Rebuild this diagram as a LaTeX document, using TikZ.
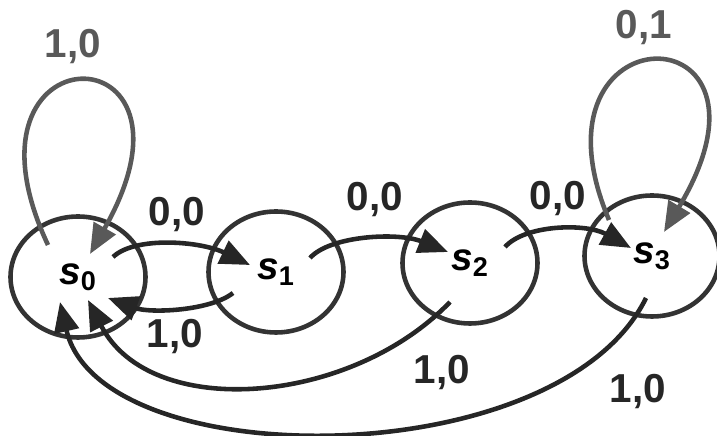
\documentclass[tikz,border=0pt]{standalone}
\usepackage{fontspec}
\setmainfont{Liberation Sans}
\usetikzlibrary{shapes.geometric,arrows.meta}

\begin{document}
\begin{tikzpicture}[
		state/.style={ellipse, draw=black!80, line width=2.6pt, minimum width=2.7cm, minimum height=2.42cm, inner sep=0pt, font=\fontsize{22}{24}\selectfont\bfseries},
		edge/.style={draw=black!85, line width=2.6pt, -{Triangle[length=17pt,width=14pt]}},
		selfloop/.style={edge, draw=black!65},
		lbl/.style={font=\fontsize{23}{25}\selectfont\bfseries, text=black!85}
	]
		
		\useasboundingbox (0,0) rectangle (14.34,8.72);
		
		\node[state] (s0) at (1.56,3.18) {\textit{s}\textsubscript{0}};
		\node[state] (s1) at (5.52,3.28) {\textit{s}\textsubscript{1}};
		\node[state] (s2) at (9.40,3.46) {\textit{s}\textsubscript{2}};
		\node[state] (s3) at (13.04,3.60) {\textit{s}\textsubscript{3}};
		
		\draw[selfloop] ([shift={(-0.60,0.64)}]s0.center) .. controls +(-2.06,4.38) and +(2.6,4.56) .. ([shift={(0.24,0.46)}]s0.center);
		\draw[selfloop] ([shift={(-0.86,0.72)}]s3.center) .. controls +(-1.8,4.26) and +(2.7,4.5) .. ([shift={(0.24,0.48)}]s3.center);
		
		\draw[edge] ([shift={(0.70,0.40)}]s0.center) .. controls +(0.44,0.42) and +(-1.0,0.48) .. ([shift={(-0.52,0.14)}]s1.center);
		\draw[edge] ([shift={(-0.86,-0.42)}]s1.center) .. controls +(-0.46,-0.36) and +(0.84,-0.31) .. ([shift={(0.60,-0.42)}]s0.center);
		\draw[edge] ([shift={(0.68,0.28)}]s1.center) .. controls +(0.4,0.45) and +(-1.0,0.4) .. ([shift={(-0.44,0.22)}]s2.center);
		\draw[edge] ([shift={(0.70,0.32)}]s2.center) .. controls +(0.4,0.45) and +(-0.9,0.5) .. ([shift={(-0.42,0.16)}]s3.center);
		
		\draw[edge] ([shift={(-0.40,-0.78)}]s2.center) .. controls +(-2.0,-2.08) and +(1.24,-2.42) .. ([shift={(0.20,-0.46)}]s0.center);
		\draw[edge] ([shift={(-0.12,-0.84)}]s3.center) .. controls +(-1.74,-3.56) and +(0.8,-3.48) .. ([shift={(-0.36,-0.50)}]s0.center);
		
		\node[lbl, text=black!65] (l00) at (1.46,7.78) {1,0};
		\node[lbl] (l01) at (3.54,4.42) {0,0};
		\node[lbl] (l10) at (3.50,1.98) {1,0};
		\node[lbl] (l12) at (7.50,4.72) {0,0};
		\node[lbl] (l23) at (11.16,4.74) {0,0};
		\node[lbl, text=black!65] (l33) at (12.88,8.16) {0,1};
		\node[lbl] (l20) at (8.84,1.26) {1,0};
		\node[lbl] (l30) at (12.76,0.88) {1,0};
		
\end{tikzpicture}
\end{document}
